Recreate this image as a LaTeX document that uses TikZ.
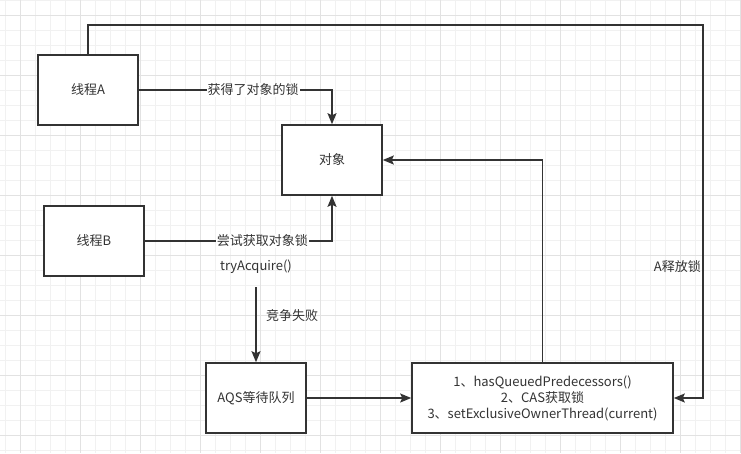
\documentclass[tikz,border=0pt]{standalone}
\usepackage{fontspec}
\setmainfont{Noto Sans CJK SC}
\usetikzlibrary{arrows.meta}
\definecolor{ink}{HTML}{333333}
\definecolor{gridminor}{HTML}{F1F1F1}
\definecolor{gridmajor}{HTML}{E2E2E2}
\begin{document}
\begin{tikzpicture}[x=1pt,y=-1pt,
  txt/.style={text=ink, font=\fontsize{13}{16}\selectfont},
  box/.style={txt, draw=ink, line width=1.6pt, fill=white,
    minimum width=100pt, minimum height=70pt, inner sep=0pt, align=center},
  link/.style={draw=ink, line width=1.3pt,
    -{Stealth[length=11pt,width=9pt,inset=2pt]}},
  lbl/.style={txt, inner sep=1pt},
  onlbl/.style={lbl, fill=white}]

% canvas and background grid
\fill[white] (0,0) rectangle (741,453);
\useasboundingbox (0,0) rectangle (741,453);
\foreach \x in {5,20,...,740} \draw[gridminor, line width=0.8pt] (\x,0) -- (\x,453);
\foreach \y in {0,15,...,450} \draw[gridminor, line width=0.8pt] (0,\y) -- (741,\y);
\foreach \x in {20,80,...,740} \draw[gridmajor, line width=0.8pt] (\x,0) -- (\x,453);
\foreach \y in {15,75,...,450} \draw[gridmajor, line width=0.8pt] (0,\y) -- (741,\y);

% boxes
\node[box] (ta) at (88,90) {线程A};
\node[box] (obj) at (332,160) {对象};
\node[box] (tb) at (94,241) {线程B};
\node[box] (aqs) at (256,398) {AQS等待队列};
\node[box, minimum width=261pt] (steps) at (542.5,398)
  {1、hasQueuedPredecessors()\\2、CAS获取锁\\3、setExclusiveOwnerThread(current)};

% free texts and helper points
\node[lbl] (try) at (256,267) {tryAcquire()};
\coordinate (failstart) at (256,287);
\coordinate (rtop) at (703,25);

% connectors
\draw[link] (ta.east) -| node[onlbl, pos=0.296] {获得了对象的锁} (obj.north);
\draw[link] (tb.east) -| node[onlbl, pos=0.314] {尝试获取对象锁} (obj.south);
\draw[link] (failstart) -- (aqs.north);
\node[lbl] (fail) at (292,316) {竞争失败};
\draw[link] (aqs.east) -- (steps.west);
\draw[link] (steps.north) |- (obj.east);
\draw[link] (ta.north) |- (rtop) |- (steps.east);
\node[lbl, anchor=east] (rel) at (702,267) {A释放锁};
\end{tikzpicture}
\end{document}
